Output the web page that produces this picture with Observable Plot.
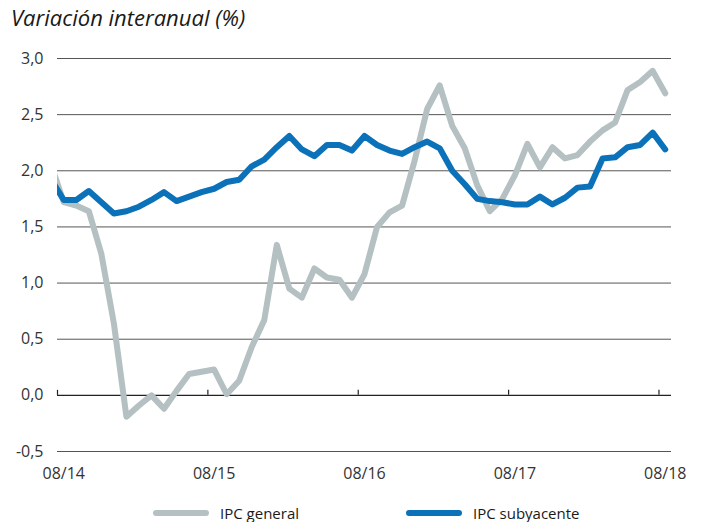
<!DOCTYPE html>
<html>
<head>
<meta charset="utf-8">
<script src="https://cdn.jsdelivr.net/npm/d3@7"></script>
<script src="https://cdn.jsdelivr.net/npm/@observablehq/plot@0.6"></script>
<style>
  body { margin: 0; background: #fff; font-family: "Open Sans", sans-serif; }
  #wrap { position: relative; width: 703px; height: 522px; overflow: hidden; }
  #title { position: absolute; left: 11px; top: 2px; font-size: 22px; font-style: italic; color: #1a1a1a; white-space: nowrap; }
  #chart { position: absolute; left: 0; top: 0; }
  .item { position: absolute; top: 502px; height: 22px; display: flex; align-items: center; font-size: 15px; color: #1a1a1a; white-space: nowrap; }
  .sw { display: inline-block; width: 56px; height: 6px; border-radius: 3px; margin-right: 11px; }
</style>
</head>
<body>
<div id="wrap">
  <div id="chart"></div>
  <div id="title">Variación interanual (%)</div>
  <div id="legend"></div>
</div>
<script>
// Monthly observations, Jul 2014 (partly outside the frame) to Aug 2018
const months = d3.utcMonth.range(new Date(Date.UTC(2014, 6, 1)), new Date(Date.UTC(2018, 8, 1)));

const ipcGeneral = [
  2.05,
  1.72, 1.69, 1.64, 1.26, 0.64, -0.19, -0.09, 0.00, -0.12, 0.04, 0.19, 0.21,
  0.23, 0.01, 0.13, 0.43, 0.67, 1.34, 0.95, 0.87, 1.13, 1.05, 1.03, 0.87,
  1.08, 1.50, 1.63, 1.69, 2.09, 2.55, 2.76, 2.40, 2.20, 1.87, 1.64, 1.75,
  1.96, 2.24, 2.03, 2.21, 2.11, 2.14, 2.26, 2.36, 2.43, 2.72, 2.79, 2.89,
  2.69
];

const ipcSubyacente = [
  1.92,
  1.74, 1.74, 1.82, 1.72, 1.62, 1.64, 1.68, 1.74, 1.81, 1.73, 1.77, 1.81,
  1.84, 1.90, 1.92, 2.04, 2.10, 2.21, 2.31, 2.19, 2.13, 2.23, 2.23, 2.18,
  2.31, 2.23, 2.18, 2.15, 2.21, 2.26, 2.20, 2.00, 1.88, 1.75, 1.73, 1.72,
  1.70, 1.70, 1.77, 1.70, 1.76, 1.85, 1.86, 2.11, 2.12, 2.21, 2.23, 2.34,
  2.19
];

const seriesNames = ["IPC general", "IPC subyacente"];
const seriesColors = ["#b5c0c2", "#0b71b8"];
const yTicks = [-0.5, 0, 0.5, 1, 1.5, 2, 2.5, 3];
const xTickLabels = ["08/14", "08/15", "08/16", "08/17", "08/18"];

const fmtMonth = d3.utcFormat("%m/%y");
// each month is a category of width 1; the point sits at its centre
const xOf = i => i - 0.5;
const rows = (vals, name) => vals.map((v, i) => ({x: xOf(i), v, name, date: months[i]}));
const dataGeneral = rows(ipcGeneral, seriesNames[0]);
const dataSub = rows(ipcSubyacente, seriesNames[1]);

const labelIdx = xTickLabels.map(l => months.findIndex(m => fmtMonth(m) === l));
const labelPos = labelIdx.map(i => xOf(i));          // label at category centre
const tickPos = labelIdx.map(i => xOf(i) - 0.5);     // tick at category boundary
const labelByPos = new Map(labelPos.map((p, k) => [p, xTickLabels[k]]));

const chart = Plot.plot({
  width: 703,
  height: 490,
  marginLeft: 57,
  marginRight: 32,
  marginTop: 58,
  marginBottom: 39,
  style: {fontFamily: "'Open Sans', sans-serif", fontSize: "16px", color: "#333", background: "transparent"},
  x: {domain: [0, 49]},
  y: {domain: [-0.5, 3]},
  marks: [
    Plot.ruleY(yTicks.filter(d => d !== 0), {stroke: "#555", strokeWidth: 1}),
    Plot.ruleY([0], {stroke: "#222", strokeWidth: 1.2}),
    Plot.ruleX(tickPos, {y1: 0, y2: 0.045, stroke: "#222", strokeWidth: 1.2}),
    Plot.axisY(yTicks, {tickSize: 0, tickPadding: 14, label: null, fontSize: 16,
      tickFormat: d => d.toFixed(1).replace(".", ",")}),
    Plot.axisX(labelPos, {tickSize: 0, tickPadding: 16, label: null, fontSize: 16,
      tickFormat: d => labelByPos.get(d)}),
    Plot.line(dataGeneral, {x: "x", y: "v", stroke: seriesColors[0], strokeWidth: 6,
      strokeLinejoin: "round", strokeLinecap: "round", clip: true}),
    Plot.line(dataSub, {x: "x", y: "v", stroke: seriesColors[1], strokeWidth: 6,
      strokeLinejoin: "round", strokeLinecap: "round", clip: true})
  ]
});
document.getElementById("chart").appendChild(chart);

// Legend
const legend = document.getElementById("legend");
const legendLeft = [153, 406];
seriesNames.forEach((name, k) => {
  const it = document.createElement("div");
  it.className = "item";
  it.style.left = legendLeft[k] + "px";
  it.innerHTML = `<span class="sw" style="background:${seriesColors[k]}"></span><span>${name}</span>`;
  legend.appendChild(it);
});
</script>
</body>
</html>
